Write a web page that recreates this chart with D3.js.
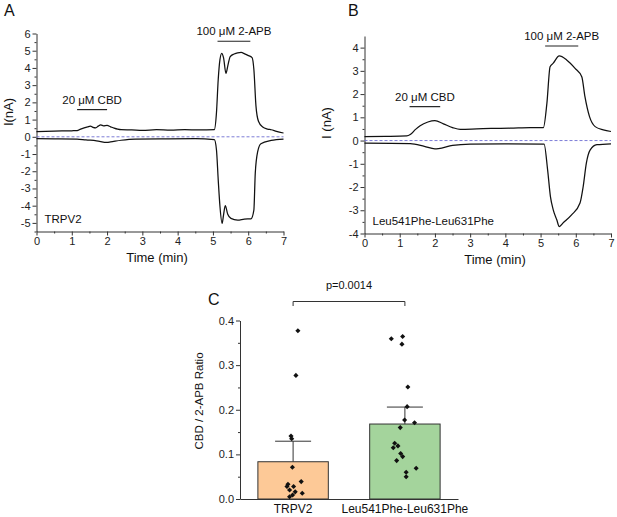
<!DOCTYPE html>
<html>
<head>
<meta charset="utf-8">
<script src="https://cdn.jsdelivr.net/npm/d3@7"></script>
<style>
body { margin: 0; background: #fff; }
svg { display: block; font-family: Arial, "Liberation Sans", sans-serif; }
</style>
</head>
<body>
<svg id="fig" width="617" height="517"></svg>
<script>
// traces, [time (min), current (nA)]
let traceA_up = [[0,0.30],[0.5,0.33],[1.0,0.35],[1.15,0.36],[1.25,0.45],[1.35,0.52],[1.45,0.58],[1.53,0.62],[1.6,0.55],[1.68,0.52],[1.75,0.62],[1.82,0.69],[1.9,0.64],[2.0,0.66],[2.1,0.58],[2.2,0.5],[2.3,0.44],[2.4,0.41],[2.7,0.40],[3.0,0.38],[3.4,0.41],[3.8,0.39],[4.2,0.41],[4.6,0.40],[5.04,0.42],[5.1,1.39],[5.15,3.33],[5.2,4.5],[5.25,4.85],[5.3,4.6],[5.37,3.68],[5.42,4.11],[5.49,4.66],[5.6,4.81],[5.7,4.88],[5.8,4.9],[5.9,4.82],[5.99,4.73],[6.11,4.6],[6.16,3.92],[6.22,1.78],[6.29,0.9],[6.41,0.57],[6.55,0.45],[6.65,0.41],[6.8,0.32],[7.0,0.22]];
let traceA_down = [[0,-0.11],[0.5,-0.12],[1.15,-0.13],[1.4,-0.18],[1.7,-0.23],[2.0,-0.33],[2.1,-0.3],[2.4,-0.2],[2.8,-0.13],[3.5,-0.12],[4.5,-0.11],[5.04,-0.17],[5.1,-0.75],[5.15,-2.5],[5.2,-4.06],[5.26,-5.03],[5.3,-4.55],[5.35,-4.0],[5.42,-4.5],[5.51,-4.74],[5.7,-4.84],[5.89,-4.78],[6.08,-4.76],[6.16,-4.26],[6.2,-2.11],[6.27,-0.85],[6.36,-0.4],[6.65,-0.21],[7.0,-0.13]];
let traceB_up = [[0,0.17],[0.6,0.18],[1.2,0.2],[1.3,0.26],[1.45,0.48],[1.58,0.64],[1.8,0.8],[2.0,0.86],[2.24,0.72],[2.5,0.56],[2.72,0.48],[3.19,0.5],[3.6,0.52],[4.13,0.53],[4.7,0.56],[5.08,0.56],[5.18,1.61],[5.27,3.18],[5.36,3.33],[5.53,3.64],[5.74,3.47],[5.98,3.11],[6.17,2.75],[6.26,1.89],[6.39,1.03],[6.55,0.6],[6.78,0.46],[7.0,0.39]];
let traceB_down = [[0,-0.11],[1.3,-0.13],[1.7,-0.25],[2.0,-0.36],[2.1,-0.35],[2.5,-0.21],[3.0,-0.15],[4.0,-0.14],[5.1,-0.15],[5.2,-1.26],[5.28,-2.41],[5.36,-2.98],[5.46,-3.41],[5.53,-3.7],[5.65,-3.53],[5.88,-3.2],[6.12,-2.69],[6.21,-1.98],[6.3,-0.97],[6.41,-0.4],[6.6,-0.18],[7.0,-0.14]];

// drug application bars: [start, end, level] in data units
let cbdA = [1.15, 2.0, 1.58];
let apbA = [5.13, 6.06, 5.55];
let cbdB = [1.28, 2.15, 1.46];
let apbB = [5.13, 6.07, 4.07];

// panel C
let groups = ["TRPV2", "Leu541Phe-Leu631Phe"];
let means = [0.0835, 0.168];
let sems = [0.046, 0.038];
let trpv2Vals = [0.377,0.277,0.141,0.135,0.071,0.039,0.033,0.028,0.028,0.020,0.016,0.013,0.009,0.005];
let trpv2Jit = [0.068,0.04,-0.03,-0.02,-0.01,0.115,-0.073,-0.087,0.007,-0.05,0.03,0.13,-0.007,-0.05];
let leuVals = [0.359,0.364,0.347,0.251,0.207,0.177,0.171,0.160,0.125,0.119,0.115,0.102,0.095,0.086,0.069,0.060,0.050];
let leuJit = [-0.193,-0.032,-0.042,0.042,0.032,-0.004,0.137,-0.066,-0.145,-0.099,-0.165,-0.06,-0.032,-0.117,0.16,0.018,0.018];
let pText = "p=0.0014";

let svg = d3.select('#fig');
let axisCol = '#333';
let fontFam = 'Arial, "Liberation Sans", sans-serif';

function styleAxis(g, fs) {
    g.attr('font-family', fontFam);
    g.select('.domain').attr('stroke', axisCol);
    g.selectAll('.tick line').attr('stroke', axisCol);
    g.selectAll('.tick text').style('font-size', fs + 'px').attr('fill', '#222');
}

function tracePanel(o) {
    let x = d3.scaleLinear().domain([0, 7]).range([o.left, o.right]);
    let y = d3.scaleLinear().domain(o.yDomain).range([o.bottom, o.top]);
    let g = svg.append('g');

    // minor ticks
    g.append('g').attr('transform', `translate(0,${o.bottom})`)
        .call(d3.axisBottom(x).tickValues(d3.range(0.5, 7, 1)).tickSize(2).tickFormat(''))
        .call(a => a.select('.domain').remove())
        .selectAll('line').attr('stroke', axisCol);
    g.append('g').attr('transform', `translate(${o.left},0)`)
        .call(d3.axisLeft(y).tickValues(o.yMinor).tickSize(2).tickFormat(''))
        .call(a => a.select('.domain').remove())
        .selectAll('line').attr('stroke', axisCol);

    g.append('g').attr('transform', `translate(0,${o.bottom})`)
        .call(d3.axisBottom(x).tickValues(d3.range(0, 8)).tickSize(4).tickSizeOuter(0).tickPadding(2).tickFormat(d => String(d)))
        .call(a => styleAxis(a, 11));
    g.append('g').attr('transform', `translate(${o.left},0)`)
        .call(d3.axisLeft(y).tickValues(o.yTicks).tickSize(4).tickSizeOuter(0).tickPadding(2).tickFormat(d => String(d)))
        .call(a => styleAxis(a, 11));

    // zero line
    g.append('line')
        .attr('x1', x(0)).attr('x2', x(7))
        .attr('y1', y(0)).attr('y2', y(0))
        .attr('stroke', '#6e6ed2').attr('stroke-width', 0.9)
        .attr('stroke-dasharray', '3,2');

    let line = d3.line().x(d => x(d[0])).y(d => y(d[1])).curve(d3.curveMonotoneX);
    [o.up, o.down].forEach(tr => {
        g.append('path').datum(tr)
            .attr('d', line)
            .attr('fill', 'none')
            .attr('stroke', '#111')
            .attr('stroke-width', 1.25);
    });

    // application bars and labels
    [[o.cbd, '20 \u03bcM CBD'], [o.apb, '100 \u03bcM 2-APB']].forEach(([b, t]) => {
        g.append('line')
            .attr('x1', x(b[0])).attr('x2', x(b[1]))
            .attr('y1', y(b[2])).attr('y2', y(b[2]))
            .attr('stroke', '#222').attr('stroke-width', 1.2);
        g.append('text')
            .attr('x', (x(b[0]) + x(b[1])) / 2)
            .attr('y', y(b[2]) - 6)
            .attr('text-anchor', 'middle')
            .style('font-size', '11.5px')
            .attr('fill', '#111')
            .text(t);
    });

    g.append('text').attr('x', o.left + 8).attr('y', o.nameY)
        .style('font-size', '11.5px').attr('fill', '#111').text(o.name);

    g.append('text')
        .attr('transform', `translate(${o.ylabX},${o.ylabY}) rotate(-90)`)
        .attr('text-anchor', 'middle')
        .style('font-size', '13px').attr('fill', '#111')
        .text(o.ylab);

    g.append('text')
        .attr('x', o.xlabX).attr('y', o.bottom + 30)
        .attr('text-anchor', 'middle')
        .style('font-size', '13px').attr('fill', '#111')
        .text('Time (min)');

    g.append('text').attr('x', o.letterX).attr('y', 16)
        .style('font-size', '16px').attr('fill', '#111').text(o.letter);
}

tracePanel({
    left: 36.5, right: 283.5, top: 33.5, bottom: 231.5,
    yDomain: [-5.5, 6], yTicks: d3.range(-5, 7), yMinor: d3.range(-5.5, 6, 1),
    up: traceA_up, down: traceA_down, cbd: cbdA, apb: apbA,
    name: 'TRPV2', nameY: 222.5, ylab: 'I(nA)', ylabX: 13, ylabY: 112, xlabX: 157,
    letter: 'A', letterX: 4
});

tracePanel({
    left: 364.5, right: 611, top: 36, bottom: 233.5,
    yDomain: [-4, 4.5], yTicks: d3.range(-4, 5), yMinor: d3.range(-3.5, 4.5, 1),
    up: traceB_up, down: traceB_down, cbd: cbdB, apb: apbB,
    name: 'Leu541Phe-Leu631Phe', nameY: 225, ylab: 'I (nA)', ylabX: 331, ylabY: 123, xlabX: 495,
    letter: 'B', letterX: 348
});

// panel C
let cx = d3.scaleBand().domain(groups).range([240, 458]).paddingInner(0.37).paddingOuter(0.16);
let cy = d3.scaleLinear().domain([0, 0.4]).range([499, 320.5]);
let gc = svg.append('g');

gc.append('g').attr('transform', 'translate(240,0)')
    .call(d3.axisLeft(cy).tickValues(d3.range(0.05, 0.4, 0.1)).tickSize(2).tickFormat(''))
    .call(a => a.select('.domain').remove())
    .selectAll('line').attr('stroke', axisCol);
gc.append('g').attr('transform', 'translate(240,0)')
    .call(d3.axisLeft(cy).tickValues([0, 0.1, 0.2, 0.3, 0.4]).tickSize(4).tickSizeOuter(0).tickPadding(2).tickFormat(d3.format('.1f')))
    .call(a => styleAxis(a, 11));

let colors = ['#fdc997', '#a4d49c'];
gc.selectAll('rect.bar').data(groups).enter().append('rect')
    .attr('x', d => cx(d))
    .attr('width', cx.bandwidth())
    .attr('y', (d, i) => cy(means[i]))
    .attr('height', (d, i) => cy(0) - cy(means[i]))
    .attr('fill', (d, i) => colors[i])
    .attr('stroke', '#333').attr('stroke-width', 1);

// error bars (upper only)
groups.forEach((gname, i) => {
    let c = cx(gname) + cx.bandwidth() / 2;
    gc.append('line').attr('x1', c).attr('x2', c)
        .attr('y1', cy(means[i])).attr('y2', cy(means[i] + sems[i]))
        .attr('stroke', '#333').attr('stroke-width', 1);
    gc.append('line').attr('x1', c - 18).attr('x2', c + 18)
        .attr('y1', cy(means[i] + sems[i])).attr('y2', cy(means[i] + sems[i]))
        .attr('stroke', '#333').attr('stroke-width', 1);
});

// x axis line
gc.append('g').attr('transform', 'translate(0,499)')
    .call(d3.axisBottom(d3.scaleLinear().range([240, 458])).ticks(0).tickSizeOuter(0))
    .call(a => a.select('.domain').attr('stroke', axisCol));

let diamond = d3.symbol(d3.symbolSquare, 13);
[[trpv2Vals, trpv2Jit], [leuVals, leuJit]].forEach(([vals, jit], i) => {
    let c = cx(groups[i]) + cx.bandwidth() / 2;
    gc.selectAll(null).data(vals).enter().append('path')
        .attr('d', diamond)
        .attr('transform', (d, k) => `translate(${c + jit[k] * cx.bandwidth()},${cy(d)}) rotate(45)`)
        .attr('fill', '#111');
});

gc.selectAll('text.glab').data(groups).enter().append('text')
    .attr('x', d => cx(d) + cx.bandwidth() / 2)
    .attr('y', 513)
    .attr('text-anchor', 'middle')
    .style('font-size', '12px').attr('fill', '#111')
    .text(d => d);

gc.append('text')
    .attr('transform', 'translate(203,401) rotate(-90)')
    .attr('text-anchor', 'middle')
    .style('font-size', '11.5px').attr('fill', '#111')
    .text('CBD / 2-APB Ratio');

// significance bracket
let c0 = cx(groups[0]) + cx.bandwidth() / 2, c1 = cx(groups[1]) + cx.bandwidth() / 2;
gc.append('path')
    .attr('d', `M${c0},306V301.5H${c1}V306`)
    .attr('fill', 'none').attr('stroke', '#333').attr('stroke-width', 1);
gc.append('text').attr('x', (c0 + c1) / 2).attr('y', 289)
    .attr('text-anchor', 'middle')
    .style('font-size', '11px').attr('fill', '#111')
    .text(pText);

gc.append('text').attr('x', 208).attr('y', 305)
    .style('font-size', '16px').attr('fill', '#111').text('C');
</script>
</body>
</html>
